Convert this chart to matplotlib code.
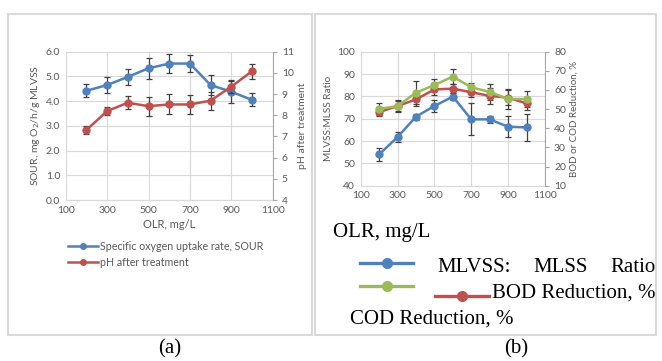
import matplotlib
matplotlib.use("Agg")
import matplotlib.pyplot as plt
from matplotlib.lines import Line2D
from matplotlib.patches import Rectangle

olr = [200, 300, 400, 500, 600, 700, 800, 900, 1000]

# panel (a)
sour = [4.42, 4.65, 4.98, 5.33, 5.52, 5.52, 4.65, 4.38, 4.05]
sour_err = [0.27, 0.32, 0.33, 0.42, 0.38, 0.36, 0.42, 0.44, 0.26]
ph = [7.30, 8.20, 8.59, 8.43, 8.51, 8.51, 8.69, 9.35, 10.08]
ph_err = [0.19, 0.2, 0.3, 0.45, 0.47, 0.45, 0.42, 0.3, 0.35]

# panel (b)
ratio = [54.0, 61.8, 70.9, 75.7, 79.9, 69.7, 69.7, 66.4, 66.1]
ratio_err = [3.0, 2.2, 1.3, 2.6, 1.6, 7.2, 1.5, 4.6, 6.0]
bod = [48.5, 51.6, 55.1, 60.3, 60.7, 58.8, 56.9, 56.0, 53.0]
bod_err = [2.0, 2.5, 3.5, 3.0, 2.5, 2.5, 4.0, 4.0, 3.5]
cod = [50.1, 51.6, 58.6, 62.6, 67.0, 61.4, 59.0, 55.3, 55.3]
cod_err = [3.0, 3.0, 6.0, 3.0, 4.0, 2.0, 4.0, 5.0, 4.0]

BLUE = "#4F81BD"
RED = "#C0504D"
GREEN = "#9BBB59"
GRID = "#d9d9d9"
TXT = "#595959"
W, H = 662, 361

plt.rcParams["font.family"] = ["Lato", "DejaVu Sans"]

fig = plt.figure(figsize=(W / 100, H / 100), dpi=100)


def box(x0, y0, x1, y1):
    return [x0 / W, 1 - y1 / H, (x1 - x0) / W, (y1 - y0) / H]


def pt(x, y):
    return x / W, 1 - y / H


# frames around the panels
for (x0, x1) in [(8, 312), (315, 656)]:
    fig.add_artist(Rectangle(pt(x0, 335), (x1 - x0) / W, (335 - 14) / H,
                             fill=False, ec=GRID, lw=1.5, transform=fig.transFigure))


def style(ax, ax2):
    ax.set_xlim(100, 1100)
    ax.set_xticks(range(100, 1101, 200))
    ax.grid(True, color=GRID, lw=0.8)
    ax.set_axisbelow(True)
    for s in ["top", "right"]:
        ax.spines[s].set_visible(False)
    ax.spines["left"].set_color(GRID)
    ax.spines["bottom"].set_color(GRID)
    ax.tick_params(length=0, labelsize=7.5, colors=TXT, pad=4)
    for s in ["top", "left", "bottom"]:
        ax2.spines[s].set_visible(False)
    ax2.spines["right"].set_color("#a6a6a6")
    ax2.tick_params(length=3, labelsize=7.5, colors=TXT, direction="out")
    ax2.tick_params(axis="y", color="#a6a6a6")


def series(ax, y, e, c):
    ax.errorbar(olr, y, yerr=e, color=c, lw=1.8, marker="o", ms=5,
                ecolor="#404040", elinewidth=0.9, capsize=2, capthick=0.9)


# ---- (a)
ax = fig.add_axes(box(65.7, 51.7, 272.7, 200))
ax2 = ax.twinx()
style(ax, ax2)
ax.set_ylim(0, 6)
ax.set_yticks([0, 1, 2, 3, 4, 5, 6])
ax.set_yticklabels([f"{v:.1f}" for v in range(7)])
ax2.set_ylim(4, 11)
ax2.set_yticks(range(4, 12))
series(ax, sour, sour_err, BLUE)
series(ax2, ph, ph_err, RED)
ax.set_ylabel("SOUR, mg O$_2$/h/g MLVSS", fontsize=7.5, color=TXT, labelpad=3)
ax2.set_ylabel("pH after treatment", fontsize=7.5, color=TXT, labelpad=3)
ax.set_xlabel("OLR, mg/L", fontsize=8, color=TXT, labelpad=3)

for yy, c, lab in [(246, BLUE, "Specific oxygen uptake rate, SOUR"),
                   (262, RED, "pH after treatment")]:
    fig.add_artist(Line2D([68 / W, 98 / W], [1 - yy / H] * 2, color=c, lw=1.8,
                          transform=fig.transFigure))
    fig.add_artist(Line2D([83 / W], [1 - yy / H], color=c, marker="o", ms=4,
                          transform=fig.transFigure))
    fig.text(*pt(100, yy), lab, fontsize=7.7, color=TXT, va="center")

# ---- (b)
bx = fig.add_axes(box(360.7, 51.7, 545, 185.7))
bx2 = bx.twinx()
style(bx, bx2)
bx.set_ylim(40, 100)
bx.set_yticks(range(40, 101, 10))
bx2.set_ylim(10, 80)
bx2.set_yticks(range(10, 81, 10))
series(bx, ratio, ratio_err, BLUE)
series(bx2, bod, bod_err, RED)
series(bx2, cod, cod_err, GREEN)
bx.set_ylabel("MLVSS:MLSS Ratio", fontsize=7.2, color=TXT, labelpad=3)
bx2.set_ylabel("BOD or COD Reduction, %", fontsize=7, color=TXT, labelpad=3)

serif = ["Liberation Serif", "DejaVu Serif"]
FS = 15
fig.text(*pt(333, 233), "OLR, mg/L", family=serif, fontsize=FS, va="center")
for x0, x1, xm, yy, c in [(360, 413, 387, 263, BLUE), (360, 413, 387, 286, GREEN),
                          (435, 489, 462, 296, RED)]:
    fig.add_artist(Line2D([x0 / W, x1 / W], [1 - yy / H] * 2, color=c, lw=2.4,
                          transform=fig.transFigure))
    fig.add_artist(Line2D([xm / W], [1 - yy / H], color=c, marker="o", ms=7,
                          transform=fig.transFigure))
fig.text(*pt(437, 267), "MLVSS:", family=serif, fontsize=FS, va="center")
fig.text(*pt(533, 267), "MLSS", family=serif, fontsize=FS, va="center")
fig.text(*pt(656, 267), "Ratio", family=serif, fontsize=FS, va="center", ha="right")
fig.text(*pt(656, 293), "BOD Reduction, %", family=serif, fontsize=FS, va="center", ha="right")
fig.text(*pt(350, 319), "COD Reduction, %", family=serif, fontsize=FS, va="center")

fig.text(*pt(170, 349), "(a)", family=serif, fontsize=FS, ha="center", va="center")
fig.text(*pt(516, 349), "(b)", family=serif, fontsize=FS, ha="center", va="center")

fig.savefig("out.png", dpi=100, facecolor="white")
